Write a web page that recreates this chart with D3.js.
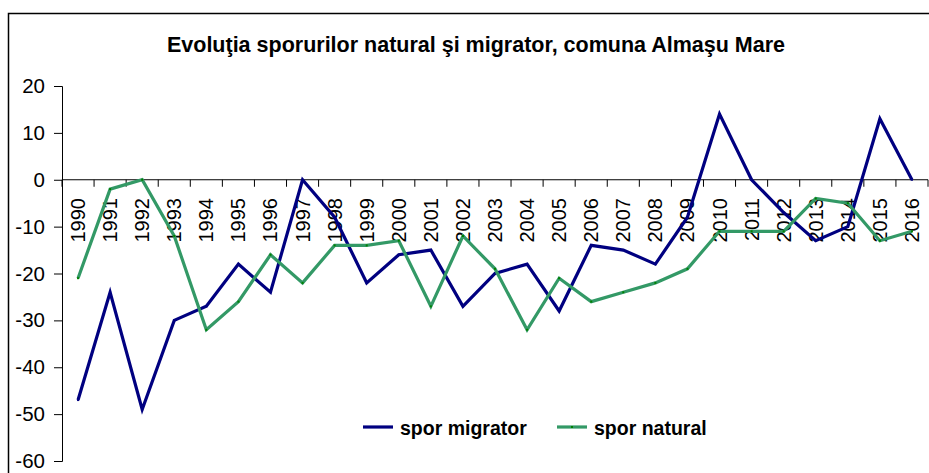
<!DOCTYPE html>
<html>
<head>
<meta charset="utf-8">
<script src="https://cdn.jsdelivr.net/npm/d3@7"></script>
<style>
  body { margin: 0; background: #fff; }
  text { font-family: Arial, "Liberation Sans", sans-serif; fill: #000; }
</style>
</head>
<body>
<svg id="chart" width="929" height="473"></svg>
<script>
const years = ["1990", "1991", "1992", "1993", "1994", "1995", "1996", "1997", "1998",
  "1999", "2000", "2001", "2002", "2003", "2004", "2005", "2006", "2007", "2008",
  "2009", "2010", "2011", "2012", "2013", "2014", "2015", "2016"];
const sporMigrator = [-47, -24, -49, -30, -27, -18, -24, 0, -8, -22, -16, -15, -27, -20,
  -18, -28, -14, -15, -18, -8, 14, 0, -7, -13, -10, 13, 0];
const sporNatural = [-21, -2, 0, -12, -32, -26, -16, -22, -14, -14, -13, -27, -12, -19,
  -32, -21, -26, -24, -22, -19, -11, -11, -11, -4, -5, -13, -11];
const yTicks = [20, 10, 0, -10, -20, -30, -40, -50, -60];

const series = [
  { name: "spor migrator", values: sporMigrator, color: "#000080", marker: "#000080" },
  { name: "spor natural", values: sporNatural, color: "#339966", marker: "#008000" }
];

const svg = d3.select("#chart");

// outer chart frame (runs off the right and bottom edge)
svg.append("rect")
  .attr("x", 8.5).attr("y", 13.5)
  .attr("width", 1000).attr("height", 600)
  .attr("fill", "none").attr("stroke", "#000").attr("stroke-width", 1.5);

svg.append("text")
  .attr("x", 476).attr("y", 52)
  .attr("text-anchor", "middle")
  .style("font-size", "21.5px").style("font-weight", "bold")
  .text("Evoluţia sporurilor natural şi migrator, comuna Almaşu Mare");

const x = d3.scaleBand().domain(years).range([62, 928]);
const y = d3.scaleLinear().domain([-60, 20]).range([461, 86]);
const bw = x.bandwidth();

// y axis
const yAxis = svg.append("g")
  .attr("transform", "translate(62,0)")
  .call(d3.axisLeft(y).tickValues(yTicks).tickSize(8).tickPadding(9).tickFormat(d => String(d)));
yAxis.select(".domain").attr("stroke", "#000");
yAxis.selectAll("text").style("font-size", "20.5px").style("font-family", "Arial, 'Liberation Sans', sans-serif");

// category axis sits at zero, ticks between categories
const y0 = y(0);
const xAxis = svg.append("g");
xAxis.append("line")
  .attr("x1", 62).attr("x2", 928)
  .attr("y1", y0).attr("y2", y0)
  .attr("stroke", "#000");
xAxis.selectAll("line.tick")
  .data(years.concat(["end"]))
  .enter().append("line")
  .attr("class", "tick")
  .attr("x1", (d, i) => 62 + i * bw)
  .attr("x2", (d, i) => 62 + i * bw)
  .attr("y1", y0).attr("y2", y0 + 7)
  .attr("stroke", "#000");
xAxis.selectAll("text")
  .data(years)
  .enter().append("text")
  .attr("transform", d => `translate(${x(d) + bw / 2},198) rotate(-90)`)
  .attr("text-anchor", "end")
  .attr("dy", "0.35em")
  .style("font-size", "20px")
  .text(d => d);

// lines
const line = d3.line()
  .x((d, i) => x(years[i]) + bw / 2)
  .y(d => y(d));

series.forEach(s => {
  svg.append("path")
    .datum(s.values)
    .attr("d", line)
    .attr("fill", "none")
    .attr("stroke", s.color)
    .attr("stroke-width", 3.2)
    .attr("stroke-linejoin", "miter");
  svg.selectAll(null)
    .data(s.values)
    .enter().append("rect")
    .attr("x", (d, i) => x(years[i]) + bw / 2 - 1)
    .attr("y", d => y(d) - 1)
    .attr("width", 2).attr("height", 2)
    .attr("fill", s.marker);
});

// legend
const legendX = [363, 557];
const legend = svg.selectAll("g.legend")
  .data(series)
  .enter().append("g")
  .attr("class", "legend")
  .attr("transform", (d, i) => `translate(${legendX[i]},427)`);
legend.append("line")
  .attr("x1", 0).attr("x2", 30)
  .attr("stroke", d => d.color).attr("stroke-width", 3.2);
legend.append("rect")
  .attr("x", 14).attr("y", -1).attr("width", 2).attr("height", 2)
  .attr("fill", d => d.marker);
legend.append("text")
  .attr("x", 37).attr("y", 7.5)
  .style("font-size", "19.5px").style("font-weight", "bold")
  .text(d => d.name);
</script>
</body>
</html>
